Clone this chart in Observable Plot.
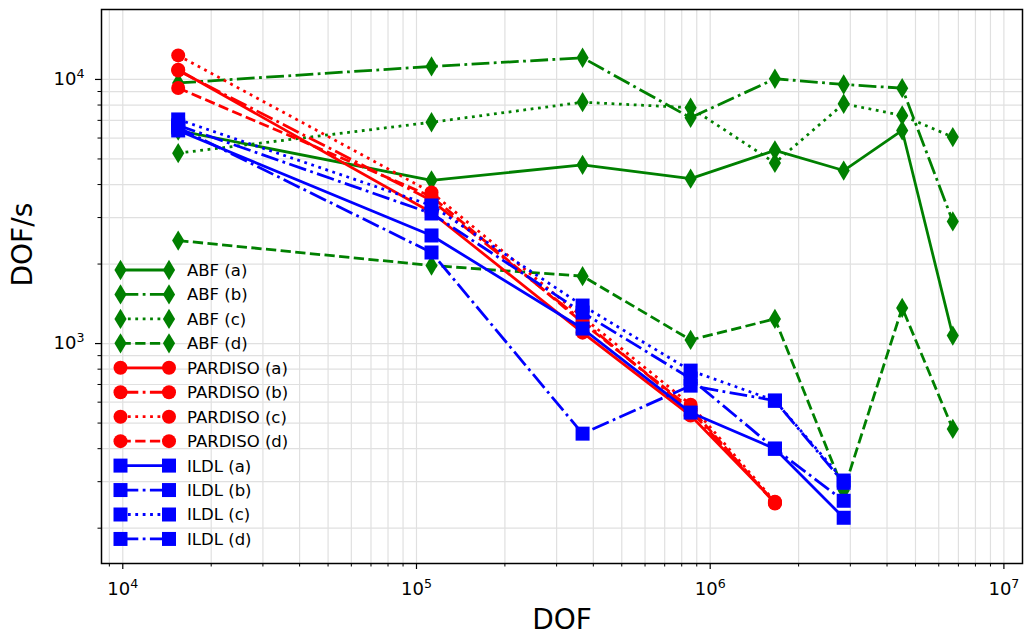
<!DOCTYPE html>
<html>
<head>
<meta charset="utf-8">
<script src="https://cdn.jsdelivr.net/npm/d3@7"></script>
<script src="https://cdn.jsdelivr.net/npm/@observablehq/plot@0.6"></script>
<style>
  html, body { margin: 0; padding: 0; background: #ffffff; }
  #chart { width: 1029px; height: 635px; }
</style>
</head>
<body>
<div id="chart"></div>
<script>
// ---- data ----
const dof = [15440, 112500, 367700, 857700, 1661000, 2848000, 4505000, 6699000];

const abfA = [6400, 4150, 4750, 4210, 5390, 4520, 6410, 1072];
const abfB = [9700, 11200, 12080, 7160, 10060, 9570, 9270, 2900];
const abfC = [5260, 6885, 8200, 7820, 4830, 8090, 7310, 6050];
const abfD = [2455, 1975, 1800, 1032, 1240, 278, 1365, 475];

const pardisoA = [10880, 3135, 1100, 534, 251];
const pardisoB = [10800, 3480, 1220, 557, 249];
const pardisoC = [12330, 3735, 1260, 587, 252];
const pardisoD = [9280, 3605, 1200, 568, 248];

const ildlA = [6410, 2566, 1140, 548, 400, 219];
const ildlB = [6700, 3108, 1310, 737, 400, 254];
const ildlC = [7056, 3333, 1393, 790, 608, 303];
const ildlD = [6580, 2212, 456, 693, 608, 297];

const seriesNames = ["ABF (a)", "ABF (b)", "ABF (c)", "ABF (d)",
  "PARDISO (a)", "PARDISO (b)", "PARDISO (c)", "PARDISO (d)",
  "ILDL (a)", "ILDL (b)", "ILDL (c)", "ILDL (d)"];
const seriesValues = [abfA, abfB, abfC, abfD, pardisoA, pardisoB, pardisoC, pardisoD, ildlA, ildlB, ildlC, ildlD];

const xMajorTicks = [1e4, 1e5, 1e6, 1e7];
const yMajorTicks = [1e3, 1e4];
const mantissas = [2, 3, 4, 5, 6, 7, 8, 9];
const xDomain = [8463, 11570000];
const yDomain = [147, 18400];

// ---- styles ----
const solverStyle = {
  ABF: { color: "#008000", symbol: "thinDiamond", r: 7 },
  PARDISO: { color: "#ff0000", symbol: "circle", r: 7 },
  ILDL: { color: "#0000ff", symbol: "square", r: 7.9 }
};
const dashStyle = {
  "a": null,
  "b": "17.8,4.4,2.8,4.4",
  "c": "2.8,4.6",
  "d": "10.3,4.4"
};
function dashFor(name) {
  const solver = name.split(" ")[0];
  const v = name.match(/\((\w)\)/)[1];
  if (solver === "ILDL" && v === "d") return dashStyle["b"];
  return dashStyle[v];
}

const thinDiamond = {
  draw(ctx, size) {
    const r = Math.sqrt(size / Math.PI);
    const h = r * 1.45, w = h * 0.6;
    ctx.moveTo(0, -h); ctx.lineTo(w, 0); ctx.lineTo(0, h); ctx.lineTo(-w, 0); ctx.closePath();
  }
};
function symbolOf(s) { return s === "thinDiamond" ? thinDiamond : s; }

function minorTicks(domain) {
  const out = [];
  for (let k = Math.floor(Math.log10(domain[0])); k <= Math.ceil(Math.log10(domain[1])); k++) {
    for (const m of [1, ...mantissas]) {
      const v = m * Math.pow(10, k);
      if (v >= domain[0] && v <= domain[1]) out.push(v);
    }
  }
  return out;
}
const xGrid = minorTicks(xDomain);
const yGrid = minorTicks(yDomain);
const xMinor = xGrid.filter(v => !xMajorTicks.includes(v));
const yMinor = yGrid.filter(v => !yMajorTicks.includes(v));

const powFmt = d => "10^" + Math.round(Math.log10(d));

// ---- marks ----
const seriesMarks = [];
seriesNames.forEach((name, si) => {
  const solver = name.split(" ")[0];
  const st = solverStyle[solver];
  const rows = seriesValues[si].map((v, i) => ({ x: dof[i], y: v }));
  seriesMarks.push(Plot.line(rows, {
    x: "x", y: "y", stroke: st.color, strokeWidth: 2.78,
    strokeDasharray: dashFor(name), strokeLinecap: "butt", strokeLinejoin: "round"
  }));
  seriesMarks.push(Plot.dot(rows, {
    x: "x", y: "y", fill: st.color, stroke: "none", r: st.r, symbol: symbolOf(st.symbol)
  }));
});

const chart = Plot.plot({
  width: 1029,
  height: 635,
  marginLeft: 101,
  marginRight: 7,
  marginTop: 9,
  marginBottom: 72,
  style: { fontFamily: "'DejaVu Sans', sans-serif", background: "#ffffff", color: "#000000" },
  x: { type: "log", domain: xDomain },
  y: { type: "log", domain: yDomain },
  marks: [
    Plot.gridX(xGrid, { stroke: "#e0e0e0", strokeOpacity: 1, strokeWidth: 1.2 }),
    Plot.gridY(yGrid, { stroke: "#e0e0e0", strokeOpacity: 1, strokeWidth: 1.2 }),
    ...seriesMarks,
    Plot.axisX(xMajorTicks, { tickSize: 6, tickPadding: 13, fontSize: 18, tickFormat: powFmt, label: null, strokeWidth: 1.2 }),
    Plot.axisX(xMinor, { tickSize: 3.5, tickFormat: () => "", label: null, strokeWidth: 1 }),
    Plot.axisY(yMajorTicks, { tickSize: 6, tickPadding: 11, fontSize: 18, tickFormat: powFmt, label: null, strokeWidth: 1.2 }),
    Plot.axisY(yMinor, { tickSize: 3.5, tickFormat: () => "", label: null, strokeWidth: 1 }),
    Plot.text(["DOF"], { frameAnchor: "bottom", dy: 57, fontSize: 28, lineAnchor: "middle", fill: "#000" }),
    Plot.text(["DOF/s"], { frameAnchor: "left", dx: -78, rotate: -90, fontSize: 28, lineAnchor: "middle", fill: "#000" }),
    Plot.frame({ stroke: "#000000", strokeWidth: 1.5 })
  ]
});

document.getElementById("chart").appendChild(chart);

const svg = d3.select(chart);

// render "10^k" tick labels as 10 with a superscript exponent
svg.selectAll("text").each(function () {
  const t = this.textContent;
  const m = /^10\^(-?\d+)$/.exec(t);
  if (!m) return;
  const el = d3.select(this);
  el.text("10");
  el.append("tspan").attr("font-size", "0.7em").attr("dy", "-0.55em").text(m[1]);
});

// ---- legend (inside the axes, lower left) ----
const lg = svg.append("g").attr("class", "legend")
  .attr("font-family", "'DejaVu Sans', sans-serif").attr("text-anchor", "start");
const legendTop = 270, legendStep = 24.45, lx0 = 120.5, lx1 = 169, ltx = 187;
seriesNames.forEach((name, i) => {
  const solver = name.split(" ")[0];
  const st = solverStyle[solver];
  const y = legendTop + i * legendStep;
  lg.append("line").attr("x1", lx0).attr("x2", lx1).attr("y1", y).attr("y2", y)
    .attr("stroke", st.color).attr("stroke-width", 2.78)
    .attr("stroke-dasharray", dashFor(name)).attr("stroke-linecap", "butt");
  const sym = d3.symbol().type(st.symbol === "thinDiamond" ? thinDiamond : (st.symbol === "circle" ? d3.symbolCircle : d3.symbolSquare))
    .size(Math.PI * st.r * st.r);
  [lx0, lx1].forEach(x => {
    lg.append("path").attr("d", sym()).attr("transform", `translate(${x},${y})`).attr("fill", st.color);
  });
  lg.append("text").attr("x", ltx).attr("y", y).attr("dy", "0.36em")
    .attr("text-anchor", "start")
    .attr("font-size", 16.5).attr("fill", "#000").text(name);
});
</script>
</body>
</html>
